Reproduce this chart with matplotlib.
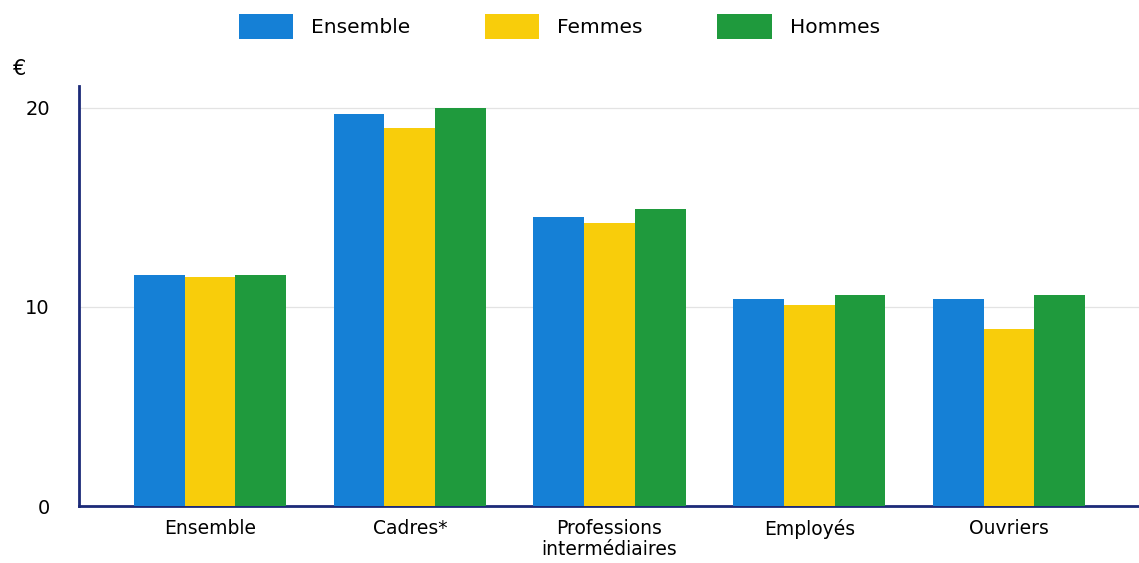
import numpy as np
import matplotlib.pyplot as plt

# salaire horaire net moyen par catégorie socioprofessionnelle
categories = ["Ensemble", "Cadres*", "Professions\nintermédiaires", "Employés", "Ouvriers"]
ensemble = [11.6, 19.7, 14.5, 10.4, 10.4]
femmes = [11.5, 19.0, 14.2, 10.1, 8.9]
hommes = [11.6, 20.0, 14.9, 10.6, 10.6]

series = [
    ("Ensemble", ensemble, "#1580d6"),
    ("Femmes", femmes, "#f8cd0b"),
    ("Hommes", hommes, "#1f9a3d"),
]

fig = plt.figure(figsize=(11.39, 5.63), dpi=100)
ax = fig.add_axes([0.0694, 0.1012, 0.9306, 0.746])

x = np.arange(len(categories))
step = 0.254
for i, (name, vals, col) in enumerate(series):
    ax.bar(x + (i - 1) * step, vals, step, color=col, label=name, zorder=3)

ax.set_xlim(-0.656, 4.651)
ax.set_ylim(0, 21.1)
ax.set_yticks([0, 10, 20])
ax.set_xticks(x)
ax.set_xticklabels(categories, fontsize=13.5, linespacing=1.15)
ax.tick_params(axis="y", length=0, pad=21, labelsize=14)
ax.tick_params(axis="x", length=0, pad=9)

ax.grid(axis="y", color="#e3e3e3", linewidth=0.9, zorder=0)
for side in ["top", "right"]:
    ax.spines[side].set_visible(False)
for side in ["left", "bottom"]:
    ax.spines[side].set_color("#1c2a78")
    ax.spines[side].set_linewidth(2)

fig.text(0.011, 0.877, "€", fontsize=15, ha="left", va="center")

fig.legend(loc="upper center", bbox_to_anchor=(0.491, 1.0), ncol=3, frameon=False,
           fontsize=14.5, handlelength=2.7, handleheight=1.55, handletextpad=0.9,
           columnspacing=3.7, borderaxespad=0.3)

fig.savefig("out.png", dpi=100)
